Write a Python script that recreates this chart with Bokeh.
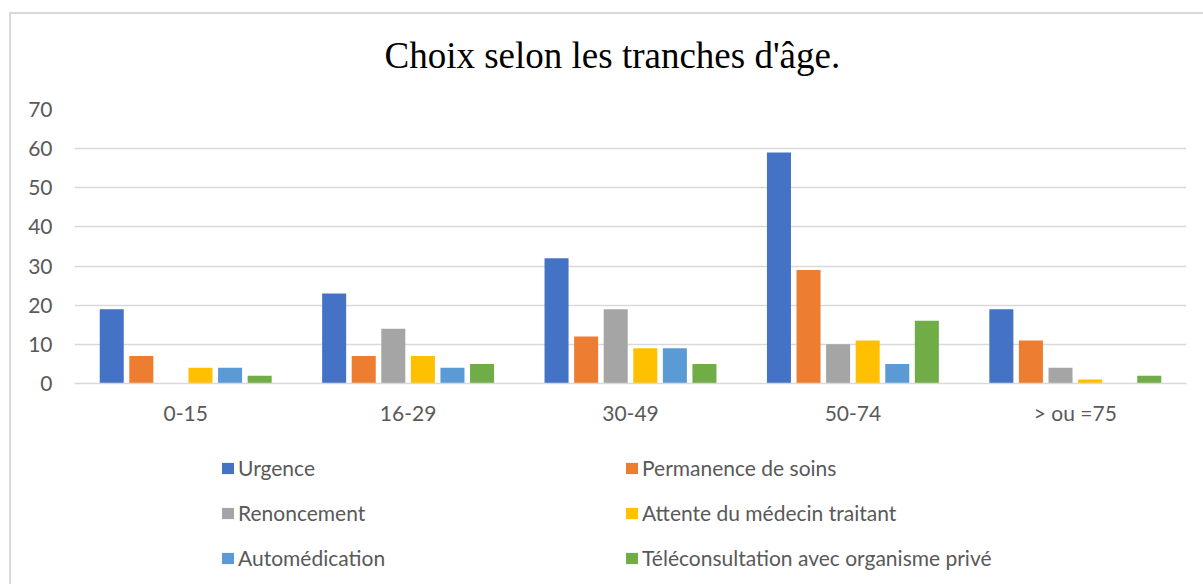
from bokeh.plotting import figure
from bokeh.models import FactorRange, Range1d, Legend, LegendItem, ColumnDataSource, Label
from bokeh.layouts import column
from bokeh.transform import dodge
from bokeh.embed import file_html
from bokeh.resources import INLINE

categories = ["0-15", "16-29", "30-49", "50-74", "> ou =75"]
series_names = ["Urgence", "Permanence de soins", "Renoncement",
                "Attente du médecin traitant", "Automédication",
                "Téléconsultation avec organisme privé"]
urgence = [19, 23, 32, 59, 19]
permanence = [7, 7, 12, 29, 11]
renoncement = [0, 14, 19, 10, 4]
attente = [4, 7, 9, 11, 1]
automedication = [4, 4, 9, 5, 0]
teleconsultation = [2, 5, 5, 16, 2]
colors = ["#4472C4", "#ED7D31", "#A5A5A5", "#FFC000", "#5B9BD5", "#70AD47"]
y_ticks = [0, 10, 20, 30, 40, 50, 60, 70]
title_text = "Choix selon les tranches d'âge."

series_values = [urgence, permanence, renoncement, attente, automedication, teleconsultation]

FONT = "Lato"
TXT = "#595959"

def blank_fig(h, x_range, y_range):
    f = figure(width=1192, height=h, output_backend="svg", toolbar_location=None,
               x_range=x_range, y_range=y_range, title=None,
               x_axis_location=None, y_axis_location=None,
               min_border_left=0, min_border_right=0, min_border_top=0,
               min_border_bottom=0)
    f.outline_line_color = None
    f.xgrid.grid_line_color = None
    f.ygrid.grid_line_color = None
    return f

# title strip
p0 = blank_fig(80, Range1d(0, 1), Range1d(0, 1))
p0.add_layout(Label(x=310, y=39, x_units="screen", y_units="screen", text=title_text,
                    text_font="Liberation Serif", text_font_size="37px",
                    text_color="#000000", text_align="left",
                    text_baseline="alphabetic"))

# main chart
p = figure(x_range=FactorRange(*categories), y_range=Range1d(0, 70), title=None,
           width=1192, height=346, output_backend="svg", toolbar_location=None,
           min_border_left=63, min_border_right=17, min_border_top=15,
           min_border_bottom=57)

pitch = 0.133
bw = 0.108
sources = [ColumnDataSource({"cat": categories, "val": vals}) for vals in series_values]
for i, (src, col) in enumerate(zip(sources, colors)):
    p.vbar(x=dodge("cat", (i - 2.5) * pitch, range=p.x_range), top="val",
           width=bw, source=src, fill_color=col, line_color=None)

p.outline_line_color = None
p.background_fill_color = "white"
p.xgrid.grid_line_color = None
p.ygrid.grid_line_color = "#D9D9D9"
p.ygrid.grid_line_width = 1.3
p.yaxis.ticker = y_ticks

for ax in (p.xaxis[0], p.yaxis[0]):
    ax.axis_line_color = None
    ax.major_tick_line_color = None
    ax.minor_tick_line_color = None
    ax.major_tick_out = 0
    ax.major_tick_in = 0
    ax.major_label_text_font = FONT
    ax.major_label_text_font_size = "21px"
    ax.major_label_text_color = TXT
p.xaxis.axis_line_color = "#D9D9D9"
p.xaxis.axis_line_width = 1.3
p.yaxis.major_label_standoff = 22
p.xaxis.major_label_standoff = 16

# legend strip: same series, zero-width bars kept off-range so only the legend shows
p2 = blank_fig(144, FactorRange(*categories), Range1d(-2, -1))
swatches = [p2.vbar(x=dodge("cat", (i - 2.5) * pitch, range=p2.x_range), top="val",
                    width=0, source=src, fill_color=c, line_color=None)
            for i, (src, c) in enumerate(zip(sources, colors))]

def make_legend(idx, loc):
    items = [LegendItem(label=series_names[k], renderers=[swatches[k]]) for k in idx]
    return Legend(items=items, location=loc, orientation="vertical",
                  label_text_font=FONT, label_text_font_size="21px",
                  label_text_color=TXT, glyph_width=15, glyph_height=14,
                  label_standoff=3, padding=0, margin=0, spacing=20,
                  label_height=25, border_line_color=None,
                  background_fill_alpha=0)

p2.add_layout(make_legend([0, 2, 4], (146, 14)))
p2.add_layout(make_legend([1, 3, 5], (550, 14)))

layout = column(p0, p, p2, spacing=0)
layout.styles = {"margin-left": "9px", "margin-top": "12px",
                 "border-left": "2px solid #D9D9D9", "border-top": "2px solid #D9D9D9"}

open("out.html", "w").write(file_html(layout, INLINE))
